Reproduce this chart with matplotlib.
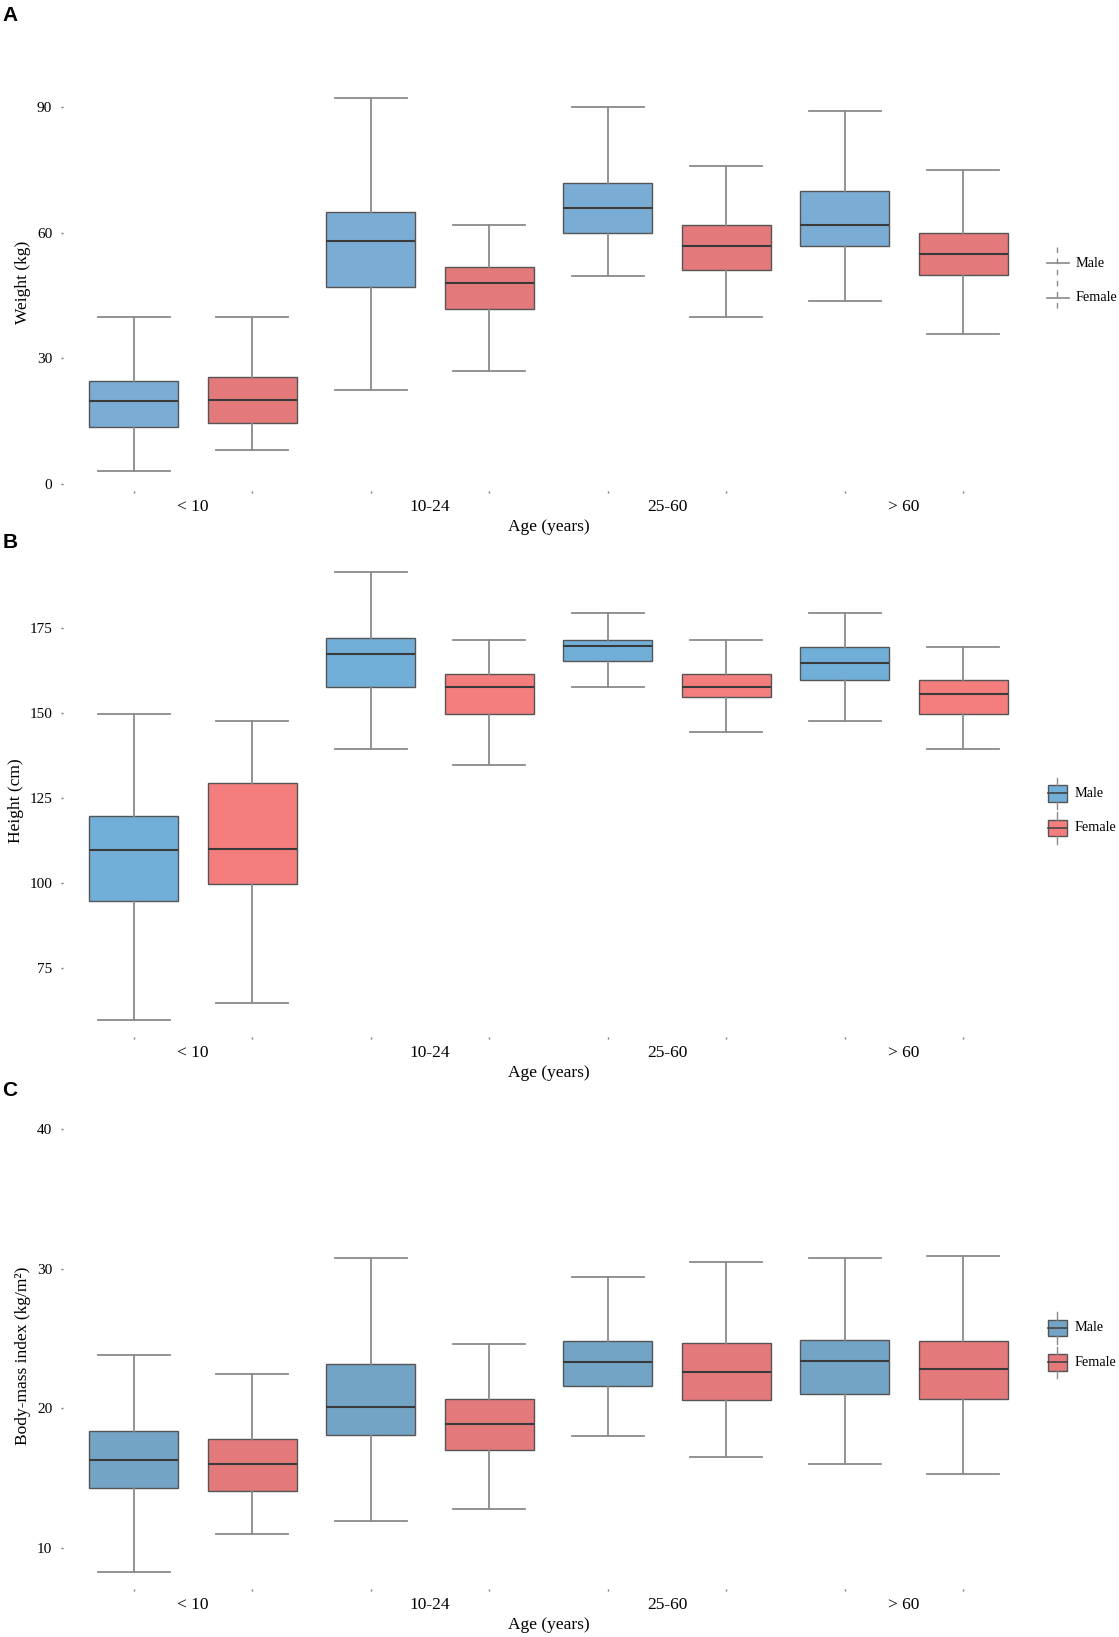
import matplotlib
matplotlib.use("Agg")
import matplotlib.pyplot as plt
from matplotlib.lines import Line2D
from matplotlib.patches import Rectangle

plt.rcParams['font.family'] = ['Liberation Serif', 'DejaVu Serif']

age_groups = ["< 10", "10-24", "25-60", "> 60"]
sexes = ["Male", "Female"]

# five-number summaries, order: Male <10, Female <10, Male 10-24, Female 10-24, ...
# (whislo, q1, med, q3, whishi)
weight = [
    (3.2, 13.7, 19.9, 24.6, 39.8),
    (8.2, 14.7, 20.0, 25.6, 40.0),
    (22.6, 47.0, 57.9, 64.9, 92.0),
    (26.9, 41.8, 48.0, 51.7, 61.9),
    (49.7, 59.9, 65.9, 71.9, 90.0),
    (39.8, 51.0, 56.9, 61.9, 75.8),
    (43.8, 56.9, 61.9, 69.9, 89.0),
    (35.8, 50.0, 54.9, 59.9, 74.8),
]
height = [
    (59.8, 94.8, 109.8, 119.8, 149.6),
    (64.7, 99.8, 110.0, 129.6, 147.6),
    (139.6, 157.7, 167.5, 172.0, 191.4),
    (134.7, 149.7, 157.7, 161.4, 171.6),
    (157.7, 165.3, 169.6, 171.6, 179.4),
    (144.6, 154.6, 157.7, 161.4, 171.6),
    (147.6, 159.6, 164.7, 169.4, 179.4),
    (139.6, 149.7, 155.6, 159.6, 169.4),
]
bmi = [
    (8.3, 14.3, 16.3, 18.4, 23.8),
    (11.0, 14.1, 16.0, 17.8, 22.5),
    (11.9, 18.1, 20.1, 23.2, 30.8),
    (12.8, 17.0, 18.9, 20.7, 24.6),
    (18.0, 21.6, 23.3, 24.8, 29.4),
    (16.5, 20.6, 22.6, 24.7, 30.5),
    (16.0, 21.0, 23.4, 24.9, 30.8),
    (15.3, 20.7, 22.8, 24.8, 30.9),
]

# layout measured on a 1072 x 1568 view of the target
W0, H0 = 1072, 1568


def fx(x):
    return x / W0


def fy(y):
    return 1 - y / H0


panels = [
    dict(letter="A", letter_y=15, data=weight, ylabel="Weight (kg)",
         yticks=[0, 30, 60, 90], ylim=(-1.5, 98), colors=("#7BACD4", "#E4797B"),
         top=70, bottom=470),
    dict(letter="B", letter_y=520, data=height, ylabel="Height (cm)",
         yticks=[75, 100, 125, 150, 175], ylim=(54.9, 193.9),
         colors=("#72AFD8", "#F47D7D"), top=540, bottom=993),
    dict(letter="C", letter_y=1045, data=bmi, ylabel="Body-mass index (kg/m²)",
         yticks=[10, 20, 30, 40], ylim=(7.06, 40.5), colors=("#73A4C5", "#E4797C"),
         top=1075, bottom=1522),
]

edge = "#555555"
whisk = "#8a8a8a"


def box_key(fig, x, y, color):
    # legend key, x/y in measured pixel coords (top-left origin)
    cx, cy = fx(x), fy(y)
    bw, bh = 18 / W0, 16 / H0
    tr = fig.transFigure
    fig.add_artist(Line2D([cx + bw / 2] * 2, [cy + bh / 2, cy + bh / 2 + 7 / H0],
                          color=whisk, lw=1, transform=tr))
    fig.add_artist(Line2D([cx + bw / 2] * 2, [cy - bh / 2, cy - bh / 2 - 7 / H0],
                          color=whisk, lw=1, transform=tr))
    fig.add_artist(Rectangle((cx, cy - bh / 2), bw, bh, facecolor=color,
                             edgecolor=edge, lw=1, transform=tr))
    fig.add_artist(Line2D([cx, cx + bw], [cy, cy], color="#444444", lw=1.2,
                          transform=tr))


fig = plt.figure(figsize=(11.19, 16.37), dpi=100)

for p in panels:
    rect = (fx(60), fy(p["bottom"]), fx(991) - fx(60), fy(p["top"]) - fy(p["bottom"]))
    ax = fig.add_axes(rect)
    stats = []
    for lo, q1, med, q3, hi in p["data"]:
        stats.append(dict(whislo=lo, q1=q1, med=med, q3=q3, whishi=hi, fliers=[],
                          label=""))
    positions = list(range(len(stats)))
    bp = ax.bxp(stats, positions=positions, widths=0.75, patch_artist=True,
                showfliers=False, capwidths=0.61,
                boxprops=dict(edgecolor=edge, linewidth=1.0),
                medianprops=dict(color="#3a3a3a", linewidth=1.5),
                whiskerprops=dict(color=whisk, linewidth=1.3),
                capprops=dict(color=whisk, linewidth=1.3))
    for i, b in enumerate(bp["boxes"]):
        b.set_facecolor(p["colors"][i % 2])

    ax.set_xlim(-0.6, 7.6)
    ax.set_ylim(*p["ylim"])
    for s in ax.spines.values():
        s.set_visible(False)

    ax.set_xticks(positions)
    ax.set_xticklabels([""] * len(positions))
    ax.set_xticks([0.5, 2.5, 4.5, 6.5], minor=True)
    ax.set_xticklabels(age_groups, minor=True, fontsize=12.5)
    ax.tick_params(axis="x", which="major", length=1.5, width=1, color="#777777")
    ax.tick_params(axis="x", which="minor", length=0, pad=6)

    ax.set_yticks(p["yticks"])
    ax.set_yticklabels([str(t) for t in p["yticks"]], fontsize=11)
    ax.tick_params(axis="y", length=1.5, width=1, color="#777777", pad=6)

    ax.set_xlabel("Age (years)", fontsize=12.5, labelpad=3)
    ax.set_ylabel(p["ylabel"], fontsize=12.5, labelpad=4)

    fig.text(0.002, fy(p["letter_y"]), p["letter"], fontsize=15, fontweight="bold",
             family="Liberation Sans", va="center", ha="left")

# legend A: line keys with dashed vertical stem
fig.add_artist(Line2D([fx(1013)] * 2, [fy(237), fy(300)], color=whisk, lw=1,
                      linestyle=(0, (4, 4)), transform=fig.transFigure))
for yy, lab in [(252, "Male"), (285, "Female")]:
    fig.add_artist(Line2D([fx(1003), fx(1024)], [fy(yy)] * 2, color=whisk, lw=1.2,
                          transform=fig.transFigure))
    fig.text(fx(1030), fy(yy), lab, fontsize=10.3, va="center", ha="left")

# legends B and C: box keys
for ym, yf, cols in [(760, 793, panels[1]["colors"]), (1272, 1305, panels[2]["colors"])]:
    box_key(fig, 1004, ym, cols[0])
    box_key(fig, 1004, yf, cols[1])
    fig.text(fx(1029), fy(ym), "Male", fontsize=10.3, va="center", ha="left")
    fig.text(fx(1029), fy(yf), "Female", fontsize=10.3, va="center", ha="left")

fig.savefig("out.png", dpi=100)
